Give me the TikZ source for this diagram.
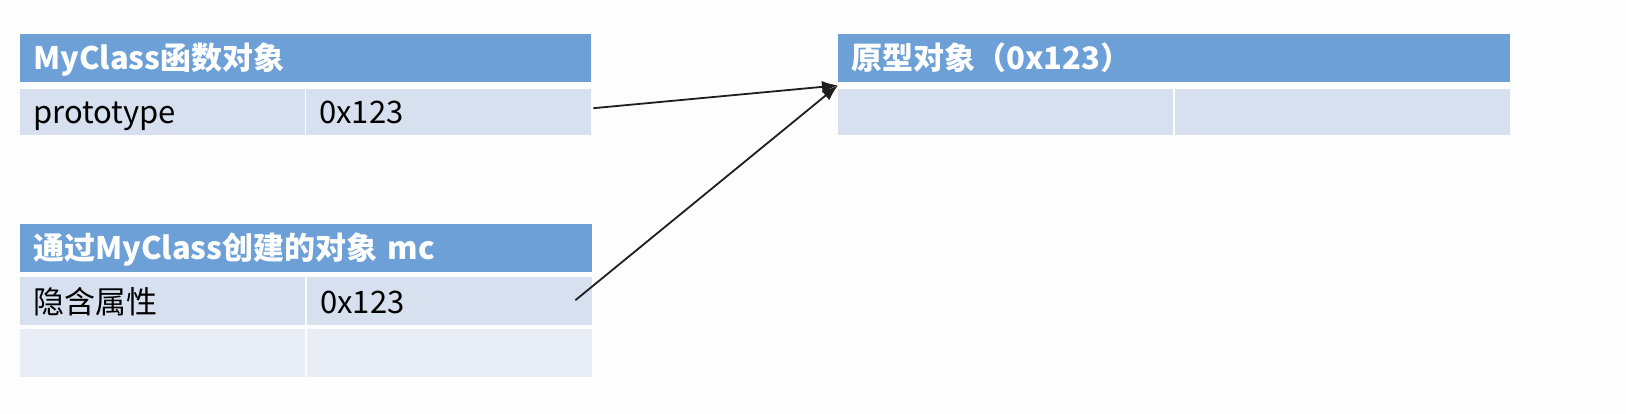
\documentclass[tikz,border=0pt]{standalone}
\usepackage{fontspec}
\setmainfont{Noto Sans CJK SC}
\usetikzlibrary{arrows.meta}
\definecolor{hdrblue}{HTML}{6CA0D6}
\definecolor{rowdark}{HTML}{D6E0EF}
\definecolor{rowlight}{HTML}{E9EEF6}
\definecolor{linkcol}{HTML}{1E1E1E}
\definecolor{bgcol}{HTML}{FDFDFD}
\begin{document}
\begin{tikzpicture}[x=1pt,y=-1pt,
  cell/.style={draw=none, inner xsep=13pt, inner ysep=0pt, anchor=north west, align=left,
    font=\fontsize{31}{36}\selectfont, text height=26pt, text depth=2.4pt},
  hdr/.style={cell, fill=hdrblue, text=white, font=\fontsize{31}{36}\selectfont\bfseries, minimum height=48pt},
  rowA/.style={cell, fill=rowdark, minimum height=46pt},
  rowB/.style={cell, fill=rowlight, minimum height=48pt},
  link/.style={draw=linkcol, line width=1.8pt, -{Latex[length=16pt,width=12pt]}}]
\fill[bgcol] (0,0) rectangle (1626,414);
\useasboundingbox (0,0) rectangle (1626,414);

% Table 1
\node[hdr, text width=545pt] (t1h) at (20,34) {MyClass函数对象};
\node[rowA, text width=259pt] (t1a) at (20,89) {prototype};
\node[rowA, text width=259pt] (t1b) at (306,89) {0x123};

% Table 2
\node[hdr, text width=546pt] (t2h) at (20,224) {通过MyClass创建的对象 mc};
\node[rowA, text width=259pt, minimum height=48pt] (t2a) at (20,277) {隐含属性};
\node[rowA, text width=259pt, minimum height=48pt] (t2b) at (307,277) {0x123};
\node[rowB, text width=259pt] (t2c) at (20,329) {};
\node[rowB, text width=259pt] (t2d) at (307,329) {};

% Table 3
\node[hdr, text width=646pt] (t3h) at (838,34) {原型对象（0x123）};
\node[rowA, text width=309pt] (t3a) at (838,89) {};
\node[rowA, text width=309pt] (t3b) at (1175,89) {};

% Arrows
\coordinate (c1) at ([xshift=2pt,yshift=4pt]t1b.east);
\coordinate (c2) at ([xshift=-17pt,yshift=1pt]t2b.east);
\coordinate (tip) at ([yshift=-3pt]t3h.south west);
\draw[link] (c1) -- (tip);
\draw[link] (c2) -- (tip);
\end{tikzpicture}
\end{document}
